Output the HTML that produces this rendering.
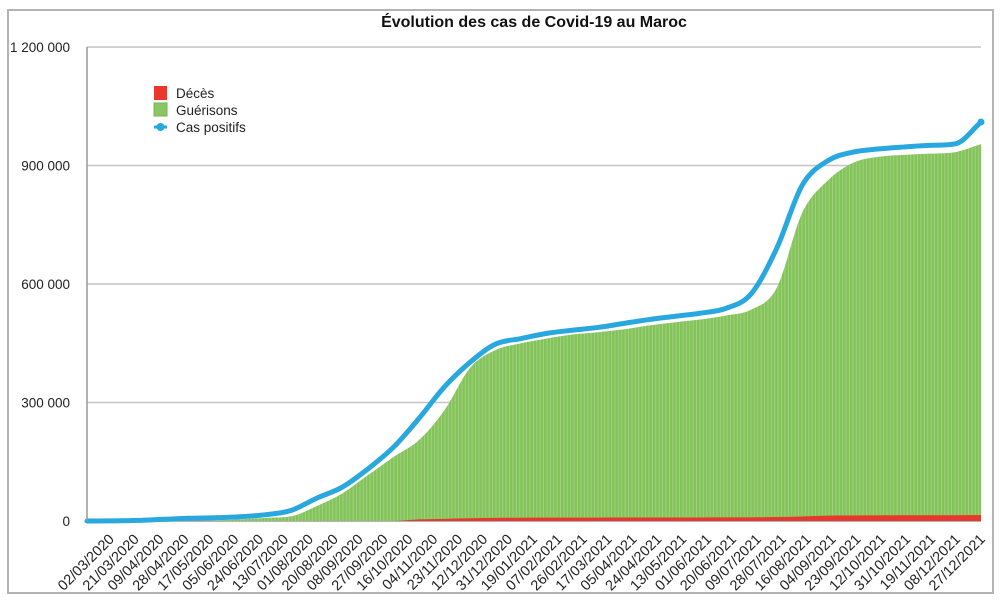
<!DOCTYPE html>
<html><head><meta charset="utf-8">
<style>
html,body{margin:0;padding:0;background:#fff;}
svg{display:block;font-family:"Liberation Sans",Arial,sans-serif;}
</style></head>
<body>
<svg id="chart" width="1000" height="602" viewBox="0 0 1000 602" xmlns="http://www.w3.org/2000/svg">
<defs>
<pattern id="stripes" patternUnits="userSpaceOnUse" width="3.4" height="10">
<rect x="0" y="0" width="3.4" height="10" fill="#84c35a"/>
<rect x="2.5" y="0" width="0.9" height="10" fill="#a3d383"/>
</pattern>
</defs>
<rect x="8" y="10" width="985" height="583" fill="#fff" stroke="#b4b4b4" stroke-width="2"/>
<text x="534" y="27" text-anchor="middle" font-size="16" font-weight="bold" fill="#111">Évolution des cas de Covid-19 au Maroc</text>
<g id="grid"></g>
<g id="bars"></g>
<g id="line"></g>
<g id="axes"></g>
<g>
<rect x="154" y="86" width="13" height="14" fill="#e8372b"/>
<text x="176" y="98" font-size="13.5" fill="#222">Décès</text>
<rect x="154" y="103" width="13" height="13" fill="#8cc565" stroke="#74b64a" stroke-width="1"/>
<text x="176" y="115" font-size="13.5" fill="#222">Guérisons</text>
<line x1="154" y1="127" x2="167" y2="127" stroke="#29a8e0" stroke-width="3"/>
<circle cx="160.5" cy="127" r="4" fill="#29a8e0"/>
<text x="176" y="132" font-size="13.5" fill="#222">Cas positifs</text>
</g>
</svg>
<script>
const categories = ["02/03/2020","21/03/2020","09/04/2020","28/04/2020","17/05/2020","05/06/2020","24/06/2020","13/07/2020","01/08/2020","20/08/2020","08/09/2020","27/09/2020","16/10/2020","04/11/2020","23/11/2020","12/12/2020","31/12/2020","19/01/2021","07/02/2021","26/02/2021","17/03/2021","05/04/2021","24/04/2021","13/05/2021","01/06/2021","20/06/2021","09/07/2021","28/07/2021","16/08/2021","04/09/2021","23/09/2021","12/10/2021","31/10/2021","19/11/2021","08/12/2021","27/12/2021"];
const casPositifs = [0,200,1500,4300,7000,8300,10800,16000,27000,58000,86000,132000,187000,260000,340000,402000,448000,462000,475000,483000,490000,500000,510000,518000,526000,538000,575000,690000,850000,912000,934000,942000,947000,951000,955000,1010000];
const guerisons = [0,0,0,0,0,1000,4000,8000,12000,38000,70000,116000,162000,205000,281000,388000,433000,450000,462000,472000,478000,485000,495000,503000,510000,520000,535000,590000,780000,862000,907000,922000,927000,930000,934000,954000];
const deces = [0,0,0,0,0,0,0,0,0,0,0,0,0,4000,5500,7000,8000,8300,8500,8600,8700,8800,8900,9000,9000,9100,9300,10000,11500,13500,14000,14300,14500,14600,14700,14800];
const yTicks = [0,300000,600000,900000,1200000];
const yTickLabels = ["0","300 000","600 000","900 000","1 200 000"];

const NS="http://www.w3.org/2000/svg";
const X0=87, X1=981, Y0=521, Y1=47, YMAX=1200000;
const n=categories.length;
function xs(i){return X0+(X1-X0)*i/(n-1);}
function xl(i){return 116+(987-116)*i/(n-1);}
function ys(v){return Y0-(Y0-Y1)*v/YMAX;}
function mk(tag,attrs,parent){const e=document.createElementNS(NS,tag);for(const k in attrs)e.setAttribute(k,attrs[k]);parent.appendChild(e);return e;}
function smoothPath(vals){
  const pts=vals.map((v,i)=>[xs(i),ys(v)]);
  const m=[],d=[];
  for(let i=0;i<pts.length-1;i++){d.push((pts[i+1][1]-pts[i][1])/(pts[i+1][0]-pts[i][0]));}
  m.push(d[0]);
  for(let i=1;i<pts.length-1;i++){m.push(d[i-1]*d[i]<=0?0:(d[i-1]+d[i])/2);}
  m.push(d[d.length-1]);
  for(let i=0;i<d.length;i++){if(d[i]===0){m[i]=0;m[i+1]=0;}else{const a=m[i]/d[i],b=m[i+1]/d[i],s=a*a+b*b;if(s>9){const t=3/Math.sqrt(s);m[i]=t*a*d[i];m[i+1]=t*b*d[i];}}}
  let p="M"+pts[0][0]+","+pts[0][1];
  for(let i=0;i<pts.length-1;i++){const h=pts[i+1][0]-pts[i][0];
    p+=" C"+(pts[i][0]+h/3)+","+(pts[i][1]+m[i]*h/3)+" "+(pts[i+1][0]-h/3)+","+(pts[i+1][1]-m[i+1]*h/3)+" "+pts[i+1][0]+","+pts[i+1][1];}
  return p;
}
const grid=document.getElementById('grid');
yTicks.forEach((t,i)=>{
  const l=mk('line',{x1:X0,x2:X1,y1:ys(t),y2:ys(t),stroke:i===0?'#999':'#c4c4c4','stroke-width':1.5},grid);
  
  
  const tx=mk('text',{x:70,y:ys(t)+5,'text-anchor':'end','font-size':13.5,fill:'#222'},grid);
  tx.textContent=yTickLabels[i];
  
  
});
const bars=document.getElementById('bars');
const gArea=mk('path',{d:smoothPath(guerisons)+" L"+xs(n-1)+","+Y0+" L"+xs(0)+","+Y0+" Z",fill:'url(#stripes)'},bars);


const dArea=mk('path',{d:smoothPath(deces)+" L"+xs(n-1)+","+Y0+" L"+xs(0)+","+Y0+" Z",fill:'#e8372b'},bars);


const lg=document.getElementById('line');
const ln=mk('path',{d:smoothPath(casPositifs),fill:'none',stroke:'#29a8e0','stroke-width':5,'stroke-linecap':'round','stroke-linejoin':'round'},lg);


const endDot=mk('circle',{cx:xs(n-1),cy:ys(casPositifs[n-1]),r:3.5,fill:'#29a8e0'},lg);


const axes=document.getElementById('axes');
const ya=mk('line',{x1:X0,x2:X0,y1:Y1,y2:Y0,stroke:'#999','stroke-width':1.5},axes);


categories.forEach((c,i)=>{
  const x=xl(i)-1, y=540;
  const t=mk('text',{x:x,y:y,'text-anchor':'end','font-size':14.5,fill:'#222',transform:'rotate(-45 '+x+' '+y+')'},axes);
  t.textContent=c;
  
  
});
</script>
</body></html>
